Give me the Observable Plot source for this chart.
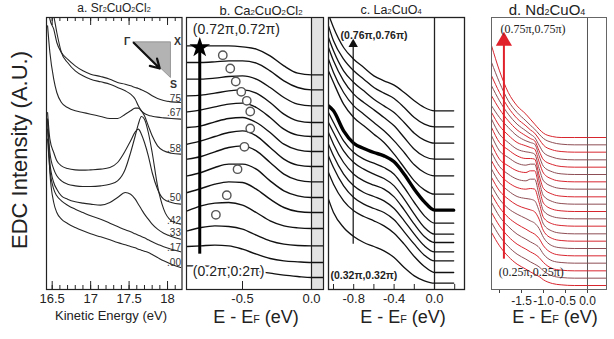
<!DOCTYPE html>
<html><head><meta charset="utf-8">
<script src="https://cdn.jsdelivr.net/npm/d3@7"></script>
<script src="https://cdn.jsdelivr.net/npm/@observablehq/plot@0.6"></script>
<style>
body{margin:0;background:#fff;}
#wrap{position:relative;width:614px;height:339px;overflow:hidden;font-family:"Liberation Sans",Arial,sans-serif;background:#fff;color:#222;}
#wrap svg{position:absolute;left:0;top:0;}
.t{position:absolute;white-space:nowrap;transform:translate(-50%,-50%);line-height:1;}
.s{font-size:0.6em;}
</style></head><body><div id="wrap"></div>
<script>
// ---------- Panel a: Sr2CuO2Cl2 (kinetic energy, eV) ----------
const energyA = [16.44,16.47,16.52,16.56,16.62,16.7,16.8,16.9,17.0,17.13,17.25,17.35,17.45,17.52,17.58,17.62,17.66,17.7,17.75,17.8,17.87,17.95,18.05,18.17];
const labelsA = [".75",".67",".58",".50",".42",".33",".17",".00"];
const labelLevelA = [573,531,423,275,207,169,126,79];
const edcA = [
 [861,811,781,741,711,691,671,656,646,639,631,621,616,611,606,603,599,595,589,581,573,567,563,561],
 [891,861,821,771,711,681,656,641,631,623,616,606,596,586,571,551,536,528,523,520,517,515,513,511],
 [791,711,631,591,561,546,536,531,526,519,513,513,526,536,544,544,536,521,491,461,431,416,409,406],
 [531,451,411,386,371,363,359,358,359,361,366,381,416,446,473,481,466,441,401,351,301,271,261,256],
 [511,411,361,341,326,316,311,309,309,311,316,326,361,411,461,496,519,511,471,411,311,241,206,196],
 [481,381,321,301,281,271,263,259,256,253,261,276,291,286,271,256,241,226,211,196,181,169,159,151],
 [451,361,301,281,266,253,241,231,221,211,199,189,179,173,167,163,159,155,149,143,136,128,121,113],
 [511,351,261,231,211,198,186,176,167,158,149,141,134,129,125,121,118,115,111,105,96,86,76,66]
];
const ticksA = [16.5,17,17.5,18];
const minorTicksA = [16.5,16.6,16.7,16.8,16.9,17,17.1,17.2,17.3,17.4,17.5,17.6,17.7,17.8,17.9,18,18.1];
const insetTri = [{e:17.552,v:743},{e:18.038,v:743},{e:18.038,v:636}];
const insetNames = [{n:"Γ",e:17.552,v:743,dx:-6,dy:0},{n:"X",e:18.038,v:743,dx:7,dy:0},{n:"S",e:18.038,v:636,dx:3,dy:7}];
const insetArrow = {e1:17.56,v1:740,e2:17.899,v2:663};

// ---------- Panel b: Ca2CuO2Cl2 ----------
const energyB = [-0.9,-0.8,-0.7,-0.6,-0.5,-0.4,-0.3,-0.2,-0.1,0,0.087];
const edcB = [
 [731,731,731,731,728,721,701,671,649,644,644],
 [681,681,683,686,686,679,656,626,606,599,599],
 [631,631,634,639,641,631,606,576,556,551,551],
 [581,583,589,596,599,589,561,526,506,501,501],
 [533,539,548,556,559,546,516,481,463,459,459],
 [486,491,503,513,516,501,471,436,419,414,414],
 [436,446,459,471,476,461,426,391,373,369,369],
 [391,399,413,426,431,416,381,346,328,323,323],
 [341,351,366,376,376,361,326,296,281,276,276],
 [291,303,316,323,321,301,271,246,234,231,231],
 [236,251,259,261,253,231,206,191,185,183,183],
 [176,186,191,189,181,163,146,136,132,131,131],
 [129,131,133,131,121,106,93,86,83,81,81],
 [71,71,69,66,61,55,49,43,39,36,36]
];
const peakEB = [-0.643,-0.589,-0.549,-0.509,-0.469,-0.444,-0.444,-0.486,-0.536,-0.614,-0.693];
const peakIB = [703,663,624,593,566,534,483,428,361,283,224];
const ticksB = [-0.5,0];
const bandB = [0,0.087];
const arrowB = {e:-0.81, from:106, to:726};
const kLabelsB = [{t:"(0.72π,0.72π)", e:-0.86, v:780},{t:"(0.2π,0.2π)", e:-0.86, v:54}];

// ---------- Panel c: La2CuO4 ----------
const energyC = [-1.05,-1.0,-0.9,-0.8,-0.7,-0.6,-0.5,-0.4,-0.3,-0.2,-0.1,0,0.19];
const edcC = [
 [826,786,726,691,666,641,626,613,591,566,546,536,536],
 [791,746,691,656,631,606,589,573,546,516,496,488,488],
 [756,716,656,621,596,571,551,531,501,469,448,439,439],
 [726,686,626,586,561,539,516,491,456,421,399,391,391],
 [691,651,591,551,526,501,476,446,411,374,351,341,341],
 [656,621,556,516,491,466,441,406,366,326,299,286,286],
 [551,536,476,439,423,411,401,383,346,301,263,238,238],
 [531,501,446,411,391,379,366,346,306,261,221,199,199],
 [501,471,416,381,361,346,333,311,271,226,186,166,166],
 [471,436,381,346,326,313,301,278,239,196,159,141,141],
 [436,401,346,311,291,279,266,243,206,166,131,113,113],
 [401,366,311,276,256,243,231,209,173,136,103,86,86],
 [351,316,266,236,219,206,191,169,136,99,69,51,51],
 [271,231,186,159,141,129,116,96,66,41,26,19,19]
];
const thickC = 6;
const ticksC = [-0.8,-0.4,0];
const minorTicksC = [-1.0,-0.8,-0.6,-0.4,-0.2,0,0.2];
const arrowC = {e:-0.805, from:136, to:736};
const kLabelsC = [{t:"(0.76π,0.76π)", e:-0.93, v:763},{t:"(0.32π,0.32π)", e:-1.03, v:41}];

// ---------- Panel d: Nd2CuO4 ----------
const energyD = [-2.18,-2.0,-1.8,-1.6,-1.4,-1.3,-1.2,-1.1,-1.0,-0.8,-0.6,-0.3,0,0.43];
const edcD = [
 [731,656,591,551,526,511,496,481,469,459,456,456,456,456],
 [681,621,566,531,506,493,481,466,453,441,436,434,434,434],
 [641,591,546,513,491,479,469,451,433,419,414,412,412,412],
 [611,566,526,496,476,466,456,433,411,397,391,389,389,389],
 [581,541,506,479,461,453,446,416,389,375,369,367,367,367],
 [551,516,486,461,446,441,436,401,369,353,347,345,345,345],
 [531,491,463,441,431,426,421,383,349,331,325,323,323,323],
 [511,466,441,421,413,411,406,363,326,309,303,301,301,301],
 [486,441,419,401,393,393,391,343,303,286,280,278,278,278],
 [461,416,396,379,373,376,376,326,281,264,258,256,256,256],
 [436,391,371,356,351,356,356,306,259,241,236,234,234,234],
 [411,369,346,331,326,331,331,283,236,219,214,212,212,212],
 [386,346,321,306,301,303,301,261,216,197,192,190,190,190],
 [361,321,296,279,273,271,266,236,196,175,169,167,167,167],
 [336,296,271,253,243,239,233,211,176,153,147,145,145,145],
 [311,271,243,226,213,206,199,183,156,131,125,123,123,123],
 [286,246,216,196,181,173,166,153,131,109,103,101,101,101],
 [261,219,189,166,151,143,136,126,106,86,81,79,79,79],
 [231,191,159,136,121,113,106,96,81,63,58,56,56,56],
 [201,161,129,106,91,83,76,68,56,41,36,34,34,34],
 [171,131,99,76,61,53,46,39,29,18,14,12,12,12]
];
const ticksD = [-1.5,-1,-0.5,0];
const minorTicksD = [-2.0,-1.5,-1.0,-0.5,0];
const arrowD = {e:-1.90, from:91, to:745};
const kLabelsD = [{t:"(0.75π,0.75π)", e:-1.98, v:781},{t:"(0.25π,0.25π)", e:-2.02, v:53}];

// ---------- helpers ----------
const W = 614, H = 339, TOP = 17, BOTTOM = 289, YMAX = 816;
const FONT = "Liberation Sans, Arial, sans-serif";
function rows(energies, curves) {
  return curves.flatMap((c, k) => energies.map((e, j) => ({e, v: c[j], k})));
}
function panel(xDomain, left, right, marks) {
  return Plot.plot({
    width: W, height: H,
    marginLeft: left, marginRight: W - right, marginTop: TOP, marginBottom: H - BOTTOM,
    x: {domain: xDomain, axis: null},
    y: {domain: [0, YMAX], axis: null},
    style: {background: "transparent", overflow: "visible", fontFamily: FONT, color: "#222"},
    marks
  });
}
const wrap = document.getElementById("wrap");

// Panel a
const rowsA = rows(energyA, edcA);
wrap.appendChild(panel([16.426, 18.188], 46, 181.5, [
  Plot.line(insetTri.concat([insetTri[0]]), {x: "e", y: "v", fill: "#b3b3b3", stroke: "#888", strokeWidth: 0.8}),
  Plot.arrow([insetArrow], {x1: "e1", y1: "v1", x2: "e2", y2: "v2", stroke: "#111", strokeWidth: 2.2, headLength: 7}),
  ...insetNames.map((d) => Plot.text([d], {x: "e", y: "v", text: "n", dx: d.dx, dy: d.dy, fontSize: 10.5, fontWeight: "bold", fill: "#333"})),
  Plot.line(rowsA, {x: "e", y: "v", z: "k", stroke: "#262626", strokeWidth: 1.1, curve: "monotone-x", clip: true}),
  Plot.text(labelsA, {x: 18.175, y: (d, i) => labelLevelA[i], text: (d) => d, textAnchor: "end", fontSize: 10, fill: "#333"}),
  Plot.ruleX(minorTicksA, {y1: 0, y2: 12, stroke: "#222"}),
  Plot.ruleX(minorTicksA, {y1: YMAX - 12, y2: YMAX, stroke: "#222"}),
  Plot.ruleX(ticksA, {y1: 0, y2: 24, stroke: "#222"}),
  Plot.ruleX(ticksA, {y1: YMAX - 24, y2: YMAX, stroke: "#222"}),
  Plot.frame({stroke: "#222", strokeWidth: 1.2}),
  Plot.axisX({ticks: ticksA, tickSize: 0, tickPadding: 4, fontSize: 13, label: null, tickFormat: (d) => String(d)})
]));

// Panel b
const rowsB = rows(energyB, edcB);
wrap.appendChild(panel([-0.906, 0.087], 186, 323, [
  Plot.rect([bandB], {x1: (d) => d[0], x2: (d) => d[1], y1: 0, y2: YMAX, fill: "#e2e2e2"}),
  Plot.ruleX([0], {stroke: "#222", strokeWidth: 1.2}),
  Plot.line(rowsB, {x: "e", y: "v", z: "k", stroke: "#111", strokeWidth: 1.4, curve: "monotone-x", clip: true}),
  Plot.dot(peakEB, {x: (d) => d, y: (d, i) => peakIB[i], r: 4.2, stroke: "#555", strokeWidth: 1.4, fill: "white"}),
  Plot.ruleX([arrowB], {x: "e", y1: "from", y2: "to", stroke: "#000", strokeWidth: 3}),
  Plot.dot([arrowB], {x: "e", y: "to", symbol: "star", r: 6.5, fill: "#000"}),
  Plot.text(kLabelsB, {x: "e", y: "v", text: "t", textAnchor: "start", fontSize: 14, fill: "#222", stroke: "white", strokeWidth: 4}),
  Plot.ruleX(ticksB, {y1: 0, y2: 24, stroke: "#222"}),
  Plot.frame({stroke: "#222", strokeWidth: 1.2}),
  Plot.axisX({ticks: ticksB, tickSize: 0, tickPadding: 4, fontSize: 13, label: null, tickFormat: (d) => d.toFixed(1)})
]));

// Panel c
const rowsC = rows(energyC, edcC);
wrap.appendChild(panel([-1.0495, 0.297], 328, 464, [
  Plot.ruleX([0], {stroke: "#222", strokeWidth: 1.3}),
  Plot.line(rowsC.filter((d) => d.k !== thickC), {x: "e", y: "v", z: "k", stroke: "#111", strokeWidth: 1.3, curve: "monotone-x", clip: true}),
  Plot.line(rowsC.filter((d) => d.k === thickC), {x: "e", y: "v", stroke: "#000", strokeWidth: 3.4, curve: "monotone-x", clip: true}),
  Plot.ruleX([arrowC], {x: "e", y1: "from", y2: "to", stroke: "#111", strokeWidth: 1.2}),
  Plot.dot([arrowC], {x: "e", y: "to", symbol: "triangle", r: 3.5, fill: "#111"}),
  Plot.text(kLabelsC, {x: "e", y: "v", text: "t", textAnchor: "start", fontSize: 10.5, fontWeight: "bold", fill: "#222"}),
  Plot.ruleX(minorTicksC, {y1: 0, y2: 15, stroke: "#222"}),
  Plot.frame({stroke: "#222", strokeWidth: 1.3}),
  Plot.axisX({ticks: ticksC, tickSize: 0, tickPadding: 4, fontSize: 13, label: null, tickFormat: (d) => d.toFixed(1)})
]));

// Panel d
const rowsD = rows(energyD, edcD);
wrap.appendChild(panel([-2.182, 0.432], 491, 606, [
  Plot.ruleX([0], {stroke: "#555", strokeWidth: 1}),
  Plot.line(rowsD.filter((d) => d.k % 2 === 1), {x: "e", y: "v", z: "k", stroke: "#8e4e55", strokeWidth: 1, curve: "monotone-x", clip: true}),
  Plot.line(rowsD.filter((d) => d.k % 2 === 0), {x: "e", y: "v", z: "k", stroke: "#d8262f", strokeWidth: 1, curve: "monotone-x", clip: true}),
  Plot.ruleX([arrowD], {x: "e", y1: "from", y2: "to", stroke: "#e0202a", strokeWidth: 2}),
  Plot.dot([arrowD], {x: "e", y: "to", symbol: "triangle", r: 6, fill: "#e0202a"}),
  Plot.text(kLabelsD, {x: "e", y: "v", text: "t", textAnchor: "start", fontSize: 12, fontFamily: "Liberation Serif, Times New Roman, serif", fill: "#222"}),
  Plot.ruleX(minorTicksD, {y1: -12, y2: 0, stroke: "#444"}),
  Plot.frame({stroke: "#666", strokeWidth: 1}),
  Plot.axisX({ticks: ticksD, tickSize: 0, tickPadding: 7, fontSize: 12, label: null, tickFormat: (d) => d.toFixed(1)})
]));

// ---------- HTML titles ----------
const texts = [
  {x: 114, y: 8, size: 12, html: 'a. Sr<span class="s">2</span>CuO<span class="s">2</span>Cl<span class="s">2</span>'},
  {x: 261, y: 10, size: 13, html: 'b. Ca<span class="s">2</span>CuO<span class="s">2</span>Cl<span class="s">2</span>'},
  {x: 391, y: 10, size: 12.5, html: 'c. La<span class="s">2</span>CuO<span class="s">4</span>'},
  {x: 547, y: 9, size: 15, html: 'd. Nd<span class="s">2</span>CuO<span class="s">4</span>'},
  {x: 111, y: 315, size: 13, html: 'Kinetic Energy (eV)'},
  {x: 256, y: 317, size: 18, html: 'E - E<span class="s">F</span> (eV)'},
  {x: 403, y: 317, size: 18, html: 'E - E<span class="s">F</span> (eV)'},
  {x: 555, y: 317, size: 18, html: 'E - E<span class="s">F</span> (eV)'}
];
for (const t of texts) {
  const d = document.createElement("div");
  d.className = "t";
  d.style.left = t.x + "px"; d.style.top = t.y + "px"; d.style.fontSize = t.size + "px";
  d.innerHTML = t.html;
  wrap.appendChild(d);
}
const yl = document.createElement("div");
yl.className = "t";
yl.style.left = "20px"; yl.style.top = "150px"; yl.style.fontSize = "22px";
yl.style.transform = "translate(-50%,-50%) rotate(-90deg)";
yl.textContent = "EDC Intensity (A.U.)";
wrap.appendChild(yl);
</script></body></html>
